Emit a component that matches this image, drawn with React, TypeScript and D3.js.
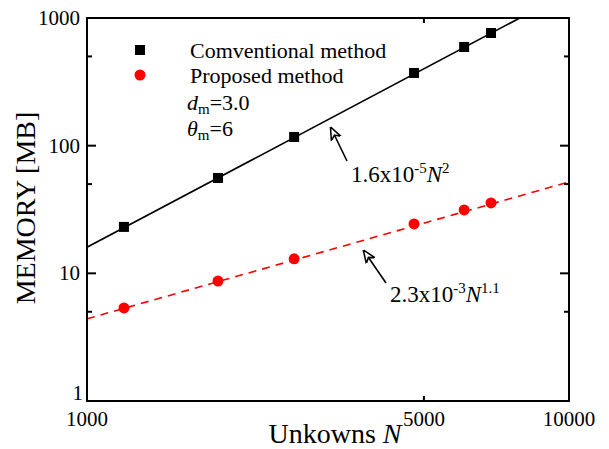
import React from "react";
import * as d3 from "d3";

const convN = [1193, 1870, 2690, 4770, 6060, 6890];
const convMem = [23.1, 55.8, 117, 371, 593, 763];
const propN = [1193, 1870, 2690, 4770, 6060, 6890];
const propMem = [5.36, 8.7, 13.0, 24.4, 31.4, 35.6];
const convFitN = [1000, 7906];
const convFitMem = [16, 1000];
const propFitN = [1000, 10000];
const propFitMem = [4.4, 52];
const yTicks = [1, 10, 100, 1000];
const yMinor = [5, 50, 500];
const xTicks = [1000, 5000, 10000];

const W = 609, H = 449;
const L = 87, R = 569, T = 18, B = 401;
const FONT = "'Liberation Serif', 'Times New Roman', serif";

export default function App() {
  const x = d3.scaleLog().domain([1000, 10000]).range([L, R]);
  const y = d3.scaleLog().domain([1, 1000]).range([B, T]);
  const line = d3.line<[number, number]>().x(d => x(d[0])).y(d => y(d[1]));
  const conv = convN.map((n, i) => [n, convMem[i]] as [number, number]);
  const prop = propN.map((n, i) => [n, propMem[i]] as [number, number]);
  const convFit = convFitN.map((n, i) => [n, convFitMem[i]] as [number, number]);
  const propFit = propFitN.map((n, i) => [n, propFitMem[i]] as [number, number]);

  return (
    <svg width={W} height={H} style={{ position: "absolute", left: 0, top: 0 }} fontFamily={FONT}>
      <defs>
        <clipPath id="clip"><rect x={L} y={T} width={R - L} height={B - T} /></clipPath>
        <marker id="arr" viewBox="0 0 10 10" refX="9" refY="5" markerWidth="13" markerHeight="13" markerUnits="userSpaceOnUse" orient="auto">
          <path d="M0,1 L10,5 L0,9 L3,5 Z" fill="white" stroke="black" strokeWidth="1.2" />
        </marker>
      </defs>
      <g clipPath="url(#clip)">
        <path d={line(convFit) || ""} fill="none" stroke="black" strokeWidth={1.6} />
        <path d={line(propFit) || ""} fill="none" stroke="#ff0000" strokeWidth={1.6} strokeDasharray="8,6" />
      </g>
      {conv.map((d, i) => (
        <rect key={"c" + i} x={x(d[0]) - 5} y={y(d[1]) - 5} width={10} height={10} fill="black" />
      ))}
      {prop.map((d, i) => (
        <circle key={"p" + i} cx={x(d[0])} cy={y(d[1])} r={5.5} fill="#ff0000" />
      ))}
      <rect x={L} y={T} width={R - L} height={B - T} fill="none" stroke="black" strokeWidth={2} />
      {yTicks.map(t => (
        <g key={"yt" + t}>
          <line x1={L} x2={L + 9} y1={y(t)} y2={y(t)} stroke="black" strokeWidth={2} />
          <line x1={R} x2={R - 9} y1={y(t)} y2={y(t)} stroke="black" strokeWidth={2} />
          <text x={t === 1 ? 83 : 80} y={t === 1 ? y(t) - 1 : y(t) + 7} textAnchor="end" fontSize={21}>{t}</text>
        </g>
      ))}
      {yMinor.map(t => (
        <g key={"ym" + t}>
          <line x1={L} x2={L + 5} y1={y(t)} y2={y(t)} stroke="black" strokeWidth={2} />
          <line x1={R} x2={R - 5} y1={y(t)} y2={y(t)} stroke="black" strokeWidth={2} />
        </g>
      ))}
      {xTicks.map(t => (
        <g key={"xt" + t}>
          {t !== 1000 && t !== 10000 && (
            <>
              <line x1={x(t)} x2={x(t)} y1={B} y2={B - 5} stroke="black" strokeWidth={2} />
              <line x1={x(t)} x2={x(t)} y1={T} y2={T + 5} stroke="black" strokeWidth={2} />
            </>
          )}
          <text x={x(t)} y={426} textAnchor="middle" fontSize={21}>{t}</text>
        </g>
      ))}
      <text x={335} y={443} textAnchor="middle" fontSize={28}>
        Unkowns <tspan fontStyle="italic">N</tspan>
      </text>
      <text transform="translate(35,208) rotate(-90)" textAnchor="middle" fontSize={28}>MEMORY [MB]</text>
      <rect x={135} y={45} width={10} height={10} fill="black" />
      <circle cx={140} cy={75} r={5.5} fill="#ff0000" />
      <text x={190} y={58} fontSize={22}>Comventional method</text>
      <text x={190} y={83} fontSize={22}>Proposed method</text>
      <text x={187} y={110} fontSize={22}>
        <tspan fontStyle="italic">d</tspan><tspan fontSize={15} dy={4}>m</tspan><tspan dy={-4}>=3.0</tspan>
      </text>
      <text x={187} y={136} fontSize={22}>
        <tspan fontStyle="italic">θ</tspan><tspan fontSize={15} dy={4}>m</tspan><tspan dy={-4}>=6</tspan>
      </text>
      <line x1={347} y1={161} x2={331} y2={128} stroke="black" strokeWidth={1.6} markerEnd="url(#arr)" />
      <text x={351} y={182} fontSize={23}>
        1.6x10<tspan fontSize={15} dy={-9}>-5</tspan><tspan fontStyle="italic" dy={9}>N</tspan><tspan fontSize={15} dy={-9}>2</tspan>
      </text>
      <line x1={386} y1={283} x2={364} y2={251} stroke="black" strokeWidth={1.6} markerEnd="url(#arr)" />
      <text x={390} y={302} fontSize={23}>
        2.3x10<tspan fontSize={15} dy={-9}>-3</tspan><tspan fontStyle="italic" dy={9}>N</tspan><tspan fontSize={15} dy={-9}>1.1</tspan>
      </text>
    </svg>
  );
}
